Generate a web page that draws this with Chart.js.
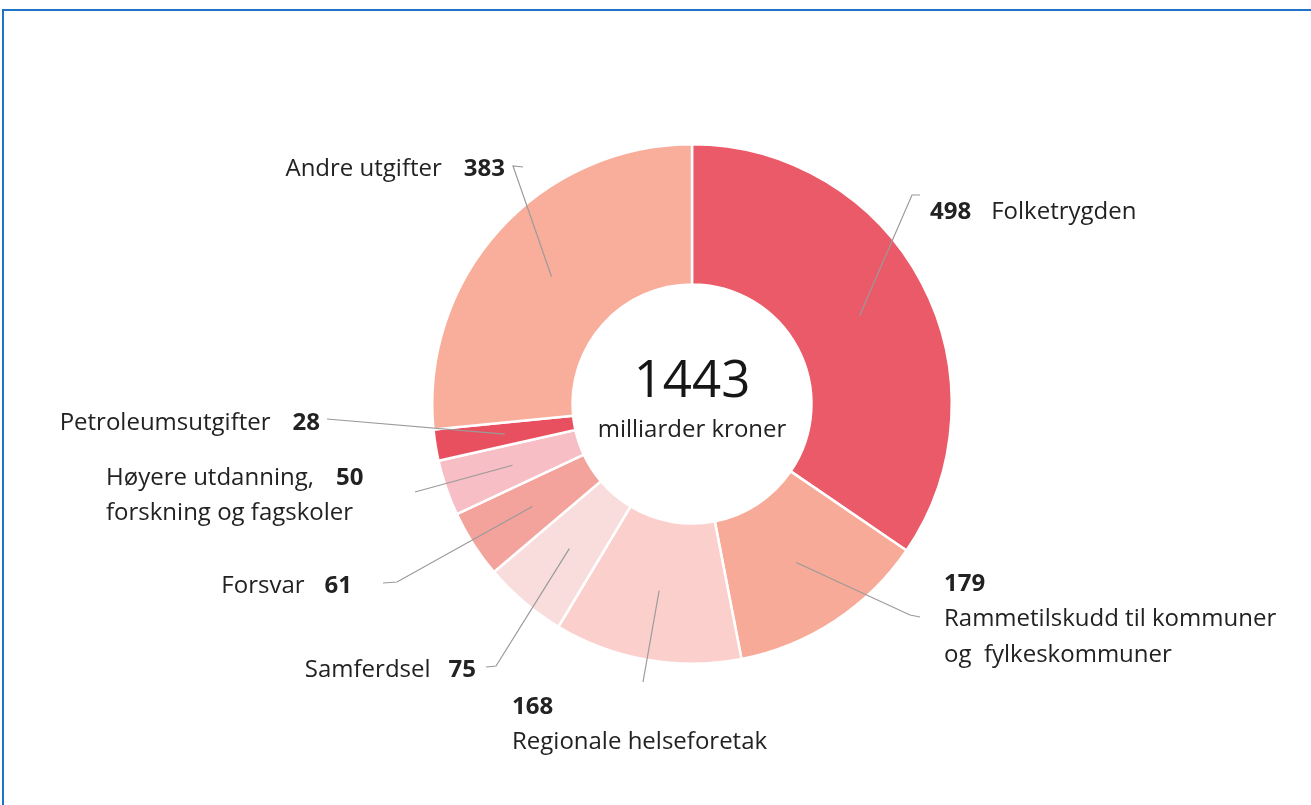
<!DOCTYPE html>
<html>
<head>
<meta charset="utf-8">
<script src="https://cdn.jsdelivr.net/npm/chart.js@4.4.0/dist/chart.umd.min.js"></script>
<style>
  html, body { margin: 0; padding: 0; background: #fff; overflow: hidden; }
  #wrap { position: relative; width: 1311px; height: 805px; }
  #frame { position: absolute; left: 2px; top: 9px; width: 1330px; height: 820px; border-left: 2px solid #1f74c9; border-top: 2px solid #1f74c9; }
  canvas { position: absolute; left: 0; top: 0; }
</style>
</head>
<body>
<div id="wrap">
  <div id="frame"></div>
  <canvas id="chart-budsjett" width="1311" height="805"></canvas>
</div>
<script>
// utgifter, milliarder kroner
const kategorier = [
    'Folketrygden',
    'Rammetilskudd til kommuner og fylkeskommuner',
    'Regionale helseforetak',
    'Samferdsel',
    'Forsvar',
    'Høyere utdanning, forskning og fagskoler',
    'Petroleumsutgifter',
    'Andre utgifter'
];
const verdier = [498, 179, 168, 75, 61, 50, 28, 383];
const totalTekst = '1443';
const enhetTekst = 'milliarder kroner';
const farger = ['#ea5a69', '#f8aa98', '#fbcfcc', '#f9dddd', '#f3a39b', '#f8bec5', '#e9505f', '#f9ad9b'];

// etikett-plassering relativt til sentrum (ikke data)
const etiketter = [
    { lines: [[['498', true], ['Folketrygden', false]]], x: 238, y: -192, align: 'left', gap: 20, leader: [[220, -209], [228, -209]] },
    { lines: [[['179', true]], [['Rammetilskudd til kommuner', false]], [['og  fylkeskommuner', false]]], x: 252, y: 180, align: 'left', leader: [[218, 211], [228, 213]] },
    { lines: [[['168', true]], [['Regionale helseforetak', false]]], x: -180, y: 303, align: 'left', leader: [[-49, 278]] },
    { lines: [[['Samferdsel', false], ['75', true]]], x: -216, y: 266, align: 'right', gap: 18, leader: [[-196, 262], [-206, 263]] },
    { lines: [[['Forsvar', false], ['61', true]]], x: -340, y: 182, align: 'right', gap: 20, leader: [[-295, 178], [-309, 179]] },
    { lines: [[['Høyere utdanning,', false], ['50', true]], [['forskning og fagskoler', false]]], x: -586, y: 74, align: 'left', gap: 22, leader: [[-277, 88]] },
    { lines: [[['Petroleumsutgifter', false], ['28', true]]], x: -372, y: 19, align: 'right', gap: 22, leader: [[-365, 15]] },
    { lines: [[['Andre utgifter', false], ['383', true]]], x: -187, y: -235, align: 'right', gap: 22, leader: [[-179, -238], [-169, -237]] }
];

const FONT = '"Open Sans", sans-serif';
const FS = 24;
const LINE_H = 35.5;

const etikettPlugin = {
    id: 'etiketter',
    afterDatasetsDraw(chart) {
        const ctx = chart.ctx;
        const arcs = chart.getDatasetMeta(0).data;
        const cx = arcs[0].x, cy = arcs[0].y;
        ctx.save();
        // ledelinjer
        ctx.strokeStyle = '#9a9a9a';
        ctx.lineWidth = 1.2;
        arcs.forEach((arc, i) => {
            const p = arc.tooltipPosition();
            const pts = etiketter[i].leader;
            ctx.beginPath();
            ctx.moveTo(p.x, p.y);
            pts.forEach(q => ctx.lineTo(cx + q[0], cy + q[1]));
            ctx.stroke();
        });
        // tekst
        ctx.fillStyle = '#222';
        ctx.textBaseline = 'middle';
        etiketter.forEach(e => {
            e.lines.forEach((line, li) => {
                const y = cy + e.y + li * LINE_H;
                const widths = line.map(([t, b]) => {
                    ctx.font = (b ? '700 ' : '400 ') + FS + 'px ' + FONT;
                    return ctx.measureText(t).width;
                });
                const total = widths.reduce((a, w) => a + w, 0) + (line.length - 1) * (e.gap || 0);
                let x = e.align === 'right' ? cx + e.x - total : cx + e.x;
                line.forEach(([t, b], k) => {
                    ctx.font = (b ? '700 ' : '400 ') + FS + 'px ' + FONT;
                    ctx.textAlign = 'left';
                    ctx.fillText(t, x, y);
                    x += widths[k] + (e.gap || 0);
                });
            });
        });
        // sentrumstekst
        ctx.textAlign = 'center';
        ctx.font = '400 51px ' + FONT;
        ctx.fillStyle = '#161616';
        ctx.fillText(totalTekst, cx, cy - 22);
        ctx.font = '400 ' + FS + 'px ' + FONT;
        ctx.fillStyle = '#222';
        ctx.fillText(enhetTekst, cx, cy + 26);
        ctx.restore();
    }
};

new Chart(document.getElementById('chart-budsjett').getContext('2d'), {
    type: 'doughnut',
    data: {
        labels: kategorier,
        datasets: [{
            data: verdier,
            backgroundColor: farger,
            borderColor: '#ffffff',
            borderWidth: 2.5
        }]
    },
    options: {
        responsive: false,
        animation: false,
        cutout: '46%',
        layout: { padding: { left: 431, right: 358, top: 143, bottom: 140 } },
        plugins: {
            legend: { display: false },
            tooltip: { enabled: false }
        }
    },
    plugins: [etikettPlugin]
});
</script>
</body>
</html>
